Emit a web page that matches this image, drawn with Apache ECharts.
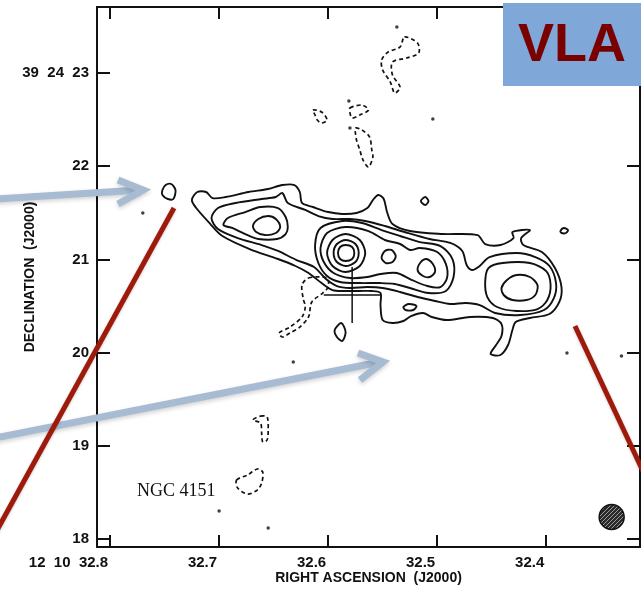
<!DOCTYPE html>
<html>
<head>
<meta charset="utf-8">
<style>
  html, body { margin: 0; padding: 0; background: #fff; }
  #chart { width: 641px; height: 589px; }
</style>
<script src="https://cdn.jsdelivr.net/npm/echarts@6/dist/echarts.min.js"></script>
</head>
<body>
<div id="chart"></div>
<script>
// NGC 4151 radio continuum map: RA seconds (12h10m) vs Dec arcsec (+39d24m)

// axis ticks
const raTicks = [32.8, 32.7, 32.6, 32.5, 32.4];
const raTickText = ['12  10  32.8', '32.7', '32.6', '32.5', '32.4'];
const decTicks = [18, 19, 20, 21, 22, 23];
const decTickText = ['18', '19', '20', '21', '22', '39  24  23'];
const raRange = [32.3140, 32.8120];
const decRange = [17.914, 23.708];

// positive contours, lowest level: envelope and small islands
const lvl1Envelope = [[32.725,21.637],[32.720,21.723],[32.712,21.723],[32.706,21.658],[32.694,21.669],[32.673,21.723],[32.655,21.755],[32.642,21.798],[32.631,21.798],[32.626,21.723],[32.624,21.605],[32.614,21.562],[32.600,21.508],[32.587,21.487],[32.574,21.498],[32.564,21.551],[32.559,21.637],[32.554,21.691],[32.549,21.648],[32.546,21.508],[32.541,21.379],[32.525,21.304],[32.495,21.272],[32.463,21.261],[32.456,21.165],[32.442,21.154],[32.430,21.229],[32.431,21.294],[32.415,21.315],[32.423,21.229],[32.421,21.154],[32.404,21.079],[32.392,20.907],[32.386,20.703],[32.388,20.543],[32.397,20.414],[32.415,20.371],[32.428,20.328],[32.431,20.242],[32.435,20.081],[32.442,19.974],[32.451,19.985],[32.446,20.081],[32.441,20.178],[32.441,20.306],[32.449,20.371],[32.470,20.382],[32.491,20.349],[32.505,20.382],[32.513,20.425],[32.524,20.392],[32.531,20.339],[32.541,20.317],[32.550,20.349],[32.552,20.510],[32.552,20.639],[32.560,20.661],[32.571,20.661],[32.585,20.661],[32.596,20.671],[32.606,20.746],[32.618,20.854],[32.630,20.929],[32.646,21.004],[32.672,21.111],[32.697,21.251],[32.708,21.379],[32.721,21.551]];
const lvl1IslandWest = [[32.752,21.744],[32.749,21.798],[32.744,21.809],[32.740,21.744],[32.742,21.648],[32.747,21.648],[32.752,21.691]];
const lvl1IslandRing = [[32.515,21.626],[32.511,21.669],[32.508,21.626],[32.511,21.583]];
const lvl1IslandEast = [[32.387,21.304],[32.384,21.337],[32.380,21.315],[32.382,21.283],[32.386,21.283]];
const lvl1IslandSouth = [[32.594,20.242],[32.588,20.317],[32.584,20.221],[32.587,20.124],[32.592,20.167]];

// second level
const lvl2Main = [[32.707,21.444],[32.701,21.551],[32.685,21.605],[32.661,21.648],[32.648,21.669],[32.642,21.712],[32.637,21.605],[32.621,21.530],[32.609,21.465],[32.596,21.433],[32.580,21.433],[32.566,21.412],[32.548,21.358],[32.530,21.294],[32.507,21.219],[32.488,21.176],[32.477,21.090],[32.473,20.940],[32.468,20.886],[32.461,20.929],[32.452,21.025],[32.427,21.068],[32.410,21.025],[32.397,20.929],[32.391,20.746],[32.393,20.585],[32.402,20.457],[32.424,20.403],[32.447,20.425],[32.461,20.510],[32.474,20.532],[32.488,20.521],[32.502,20.553],[32.518,20.596],[32.534,20.650],[32.550,20.693],[32.564,20.703],[32.580,20.693],[32.592,20.714],[32.602,20.789],[32.613,20.918],[32.629,20.993],[32.646,21.090],[32.661,21.154],[32.683,21.229],[32.701,21.326]];
const lvl2Island = [[32.531,20.489],[32.526,20.521],[32.519,20.500],[32.522,20.457],[32.529,20.457]];

// third level
const lvl3West = [[32.696,21.369],[32.692,21.444],[32.676,21.508],[32.662,21.562],[32.646,21.551],[32.639,21.455],[32.637,21.347],[32.639,21.272],[32.647,21.219],[32.664,21.219],[32.676,21.272],[32.688,21.337]];
const lvl3Centre = [[32.612,21.154],[32.607,21.337],[32.587,21.412],[32.569,21.390],[32.551,21.315],[32.534,21.251],[32.516,21.186],[32.497,21.143],[32.486,21.004],[32.485,20.811],[32.492,20.661],[32.508,20.639],[32.525,20.693],[32.539,20.736],[32.552,20.746],[32.571,20.746],[32.589,20.757],[32.601,20.822],[32.609,20.961]];
const lvl3East = [[32.456,20.757],[32.453,20.907],[32.440,20.961],[32.415,20.961],[32.400,20.875],[32.396,20.725],[32.399,20.564],[32.408,20.467],[32.427,20.446],[32.445,20.489],[32.454,20.596]];

// fourth level
const lvl4West = [[32.669,21.358],[32.664,21.433],[32.655,21.465],[32.648,21.433],[32.644,21.347],[32.648,21.283],[32.658,21.261],[32.666,21.294]];
const lvl4Centre = [[32.607,21.122],[32.601,21.283],[32.584,21.347],[32.563,21.304],[32.548,21.208],[32.534,21.165],[32.525,21.101],[32.516,21.122],[32.500,21.079],[32.492,20.950],[32.491,20.800],[32.497,20.703],[32.509,20.714],[32.525,20.789],[32.537,20.854],[32.552,20.843],[32.564,20.811],[32.580,20.800],[32.595,20.854],[32.604,20.972]];
const lvl4East = [[32.441,20.693],[32.436,20.779],[32.427,20.832],[32.415,20.811],[32.408,20.725],[32.410,20.618],[32.418,20.564],[32.431,20.564],[32.439,20.618]];

// knots and core peaks
const knotInnerA = [[32.551,21.015],[32.548,21.090],[32.542,21.101],[32.538,21.036],[32.541,20.972],[32.547,20.961]];
const knotInnerB = [[32.518,20.886],[32.515,20.972],[32.510,21.004],[32.504,20.950],[32.502,20.864],[32.507,20.811],[32.513,20.822]];
const coreRing5 = [[32.601,21.068],[32.596,21.208],[32.584,21.272],[32.571,21.208],[32.566,21.068],[32.571,20.929],[32.584,20.864],[32.596,20.929]];
const coreRing6 = [[32.595,21.068],[32.592,21.165],[32.584,21.208],[32.575,21.165],[32.572,21.068],[32.575,20.972],[32.584,20.929],[32.592,20.972]];
const coreRing7 = [[32.591,21.068],[32.589,21.133],[32.584,21.154],[32.578,21.133],[32.576,21.068],[32.578,21.004],[32.584,20.982],[32.589,21.004]];

// negative (dashed) contours
const negNorth = [[32.530,23.386],[32.518,23.322],[32.517,23.214],[32.528,23.161],[32.541,23.118],[32.541,22.978],[32.534,22.849],[32.539,22.785],[32.543,22.903],[32.550,23.032],[32.551,23.139],[32.545,23.225],[32.534,23.279]];
const negSmallA = [[32.614,22.603],[32.606,22.581],[32.601,22.495],[32.606,22.463],[32.610,22.495],[32.612,22.549]];
const negSmallB = [[32.580,22.624],[32.569,22.656],[32.563,22.603],[32.571,22.549],[32.578,22.517],[32.580,22.571]];
const negStreak = [[32.575,22.410],[32.569,22.388],[32.562,22.313],[32.560,22.174],[32.559,22.098],[32.563,21.991],[32.568,22.066],[32.571,22.174],[32.574,22.281],[32.575,22.356]];
const negNucleus = [[32.618,20.800],[32.601,20.800],[32.600,20.703],[32.605,20.639],[32.615,20.543],[32.618,20.382],[32.626,20.274],[32.635,20.210],[32.642,20.167],[32.645,20.210],[32.635,20.274],[32.624,20.382],[32.621,20.489],[32.623,20.585],[32.624,20.725]];
const negSouthA = [[32.662,19.319],[32.656,19.309],[32.655,19.169],[32.656,19.062],[32.660,19.040],[32.661,19.137],[32.662,19.244],[32.669,19.276]];
const negSouthB = [[32.684,18.633],[32.674,18.686],[32.665,18.751],[32.660,18.718],[32.661,18.600],[32.665,18.525],[32.674,18.482],[32.683,18.547]];

// isolated single-pixel peaks
const fieldDots = [[32.770,21.498],[32.581,22.699],[32.580,22.410],[32.537,23.493],[32.504,22.506],[32.632,19.899],[32.700,18.300],[32.655,18.117],[32.381,19.995],[32.331,19.963]];

// optical nucleus cross and restoring beam (radius in arcsec)
const crossCentre = [32.578, 20.618];
const crossHalfSpan = [0.026, 0.30];
const beamCentre = [32.340, 18.236];
const beamRadius = 0.134;

const positiveContours = [lvl1Envelope, lvl1IslandWest, lvl1IslandRing, lvl1IslandEast, lvl1IslandSouth,
  lvl2Main, lvl2Island, lvl3West, lvl3Centre, lvl3East, lvl4West, lvl4Centre, lvl4East,
  knotInnerA, knotInnerB, coreRing5, coreRing6, coreRing7];
const negativeContours = [negNorth, negSmallA, negSmallB, negStreak, negNucleus, negSouthA, negSouthB];

const INK = '#111';
const FONT = 'Liberation Sans, Arial, sans-serif';

function contourSeries(list, dashed) {
  return {
    type: 'custom',
    coordinateSystem: 'cartesian2d',
    silent: true,
    animation: false,
    z: 3,
    data: list.map(c => c[0]),
    renderItem: function (params, api) {
      const pts = list[params.dataIndex].map(p => api.coord(p));
      return {
        type: 'polygon',
        shape: { points: pts, smooth: 0.3 },
        style: { fill: 'none', stroke: INK, lineWidth: dashed ? 1.7 : 1.9, lineDash: dashed ? [4, 3] : null }
      };
    }
  };
}

// diagonal hatching tile for the beam ellipse
function hatchTile() {
  const c = document.createElement('canvas');
  c.width = 4; c.height = 4;
  const g = c.getContext('2d');
  g.fillStyle = '#2a2a2a';
  g.fillRect(0, 0, 4, 4);
  g.strokeStyle = '#9a9a9a';
  g.lineWidth = 1;
  g.beginPath();
  g.moveTo(-1, 5); g.lineTo(5, -1);
  g.stroke();
  return c;
}
const hatch = hatchTile();

function tickText(ticks, texts) {
  return function (v) {
    const i = ticks.findIndex(t => Math.abs(t - v) < 1e-6);
    return i >= 0 ? texts[i] : '';
  };
}

const axisLineStyle = { color: INK, width: 2 };
const labelStyle = { fontSize: 15, fontWeight: 'bold', fontFamily: FONT, color: INK };

const chart = echarts.init(document.getElementById('chart'), null, { renderer: 'canvas' });

const option = {
  animation: false,
  backgroundColor: '#fff',
  grid: { left: 97, right: 1, top: 7, bottom: 42, containLabel: false, outerBoundsMode: 'none' },
  xAxis: [
    {
      type: 'value', position: 'bottom', inverse: true,
      min: raRange[0], max: raRange[1],
      axisLine: { show: true, onZero: false, lineStyle: axisLineStyle },
      axisTick: { show: true, inside: true, length: 12, lineStyle: axisLineStyle, customValues: raTicks },
      axisLabel: Object.assign({ customValues: raTicks, formatter: tickText(raTicks, raTickText),
        align: 'right', padding: [0, 2, 0, 0], margin: 8 }, labelStyle),
      splitLine: { show: false },
      name: 'RIGHT ASCENSION  (J2000)', nameLocation: 'middle', nameGap: 24, nameMoveOverlap: false,
      nameTextStyle: { fontSize: 14, fontWeight: 'bold', fontFamily: FONT, color: INK }
    },
    {
      type: 'value', position: 'top', inverse: true,
      min: raRange[0], max: raRange[1],
      axisLine: { show: true, onZero: false, lineStyle: axisLineStyle },
      axisTick: { show: true, inside: true, length: 12, lineStyle: axisLineStyle, customValues: raTicks },
      axisLabel: { show: false },
      splitLine: { show: false }
    }
  ],
  yAxis: [
    {
      type: 'value', position: 'left',
      min: decRange[0], max: decRange[1],
      axisLine: { show: true, onZero: false, lineStyle: axisLineStyle },
      axisTick: { show: true, inside: true, length: 13, lineStyle: axisLineStyle, customValues: decTicks },
      axisLabel: Object.assign({ customValues: decTicks, formatter: tickText(decTicks, decTickText), margin: 8 }, labelStyle),
      splitLine: { show: false },
      name: 'DECLINATION  (J2000)', nameLocation: 'middle', nameGap: 60, nameMoveOverlap: false,
      nameTextStyle: { fontSize: 14, fontWeight: 'bold', fontFamily: FONT, color: INK }
    },
    {
      type: 'value', position: 'right',
      min: decRange[0], max: decRange[1],
      axisLine: { show: true, onZero: false, lineStyle: axisLineStyle },
      axisTick: { show: true, inside: true, length: 13, lineStyle: axisLineStyle, customValues: decTicks },
      axisLabel: { show: false },
      splitLine: { show: false }
    }
  ],
  series: [
    contourSeries(positiveContours, false),
    contourSeries(negativeContours, true),
    {
      type: 'scatter', silent: true, z: 4,
      symbol: 'circle', symbolSize: 3.5,
      itemStyle: { color: INK },
      data: fieldDots
    },
    {
      type: 'line', silent: true, z: 4, showSymbol: false,
      lineStyle: { color: INK, width: 1.5 },
      data: [[crossCentre[0] + crossHalfSpan[0], crossCentre[1]], [crossCentre[0] - crossHalfSpan[0], crossCentre[1]]]
    },
    {
      type: 'line', silent: true, z: 4, showSymbol: false,
      lineStyle: { color: INK, width: 1.5 },
      data: [[crossCentre[0], crossCentre[1] + crossHalfSpan[1]], [crossCentre[0], crossCentre[1] - crossHalfSpan[1]]]
    },
    {
      type: 'custom', coordinateSystem: 'cartesian2d', silent: true, z: 4,
      data: [beamCentre],
      renderItem: function (params, api) {
        const c = api.coord(beamCentre);
        const r = api.size([0, beamRadius])[1];
        return {
          type: 'circle',
          shape: { cx: c[0], cy: c[1], r: r },
          style: { fill: { image: hatch, repeat: 'repeat' }, stroke: INK, lineWidth: 1.5 }
        };
      }
    }
  ],
  graphic: [
    { type: 'text', z: 50, left: 137, top: 482,
      style: { text: 'NGC 4151', font: '18px "Liberation Serif", "Times New Roman", serif', fill: INK } },
    { type: 'rect', z: 100, shape: { x: 503, y: 3, width: 138, height: 83 }, style: { fill: '#7fa7d8' } },
    { type: 'text', z: 101, x: 572, y: 46,
      style: { text: 'VLA', font: 'bold 54px "Liberation Sans", Arial, sans-serif', fill: '#7a0000', align: 'center', verticalAlign: 'middle' } },
    // pointer arrows
    { type: 'line', z: 100, shape: { x1: -5, y1: 199, x2: 140, y2: 190 },
      style: { stroke: '#a7bbd3', lineWidth: 7, lineCap: 'butt', shadowBlur: 4, shadowOffsetY: 2, shadowColor: 'rgba(0,0,0,0.18)' } },
    { type: 'polyline', z: 100, shape: { points: [[118, 180], [143, 190], [118, 204]] },
      style: { stroke: '#a7bbd3', lineWidth: 7, fill: 'none', lineJoin: 'miter', lineCap: 'butt', shadowBlur: 4, shadowOffsetY: 2, shadowColor: 'rgba(0,0,0,0.18)' } },
    { type: 'line', z: 100, shape: { x1: -5, y1: 438, x2: 380, y2: 362 },
      style: { stroke: '#a7bbd3', lineWidth: 7, lineCap: 'butt', shadowBlur: 4, shadowOffsetY: 2, shadowColor: 'rgba(0,0,0,0.18)' } },
    { type: 'polyline', z: 100, shape: { points: [[358, 353], [383, 362], [360, 380]] },
      style: { stroke: '#a7bbd3', lineWidth: 7, fill: 'none', lineJoin: 'miter', lineCap: 'butt', shadowBlur: 4, shadowOffsetY: 2, shadowColor: 'rgba(0,0,0,0.18)' } },
    // red connector lines
    { type: 'line', z: 102, shape: { x1: 174, y1: 208, x2: -10, y2: 543 },
      style: { stroke: '#9e1b0c', lineWidth: 5, shadowBlur: 3, shadowOffsetY: 1, shadowColor: 'rgba(0,0,0,0.2)' } },
    { type: 'line', z: 102, shape: { x1: 575, y1: 326, x2: 650, y2: 486 },
      style: { stroke: '#9e1b0c', lineWidth: 5, shadowBlur: 3, shadowOffsetY: 1, shadowColor: 'rgba(0,0,0,0.2)' } }
  ]
};

chart.setOption(option);
</script>
</body>
</html>
